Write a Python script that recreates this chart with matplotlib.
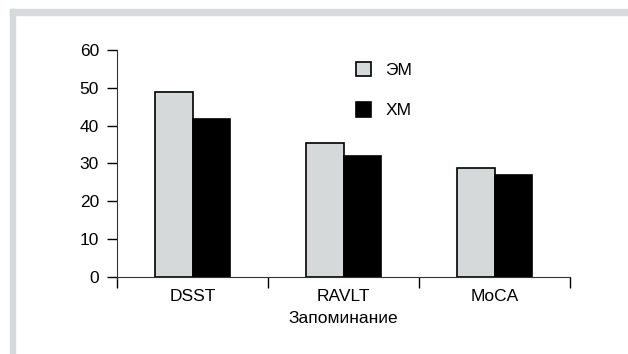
import numpy as np
import matplotlib
matplotlib.use("Agg")
from matplotlib import pyplot as plt
from matplotlib.patches import Rectangle

categories = ["DSST", "RAVLT", "MoCA"]
em_values = [48.8, 35.4, 28.7]
xm_values = [41.8, 32.0, 27.0]
series_labels = ["ЭМ", "ХМ"]
y_ticks = [0, 10, 20, 30, 40, 50, 60]
x_label = "Запоминание"

plt.rcParams['font.family'] = ['Liberation Sans', 'DejaVu Sans']
plt.rcParams['font.size'] = 12.5

fig = plt.figure(figsize=(6.28, 3.54), dpi=100)
fig.patch.set_facecolor("white")

# grey frame band (top and left), cropped like the source
frame_col = "#d6dada"
fig.patches.append(Rectangle((10 / 628, 0), 5 / 628, 1 - 9 / 354,
                             transform=fig.transFigure, color=frame_col, zorder=0))
fig.patches.append(Rectangle((10 / 628, 1 - 14.5 / 354), 1, 5.5 / 354,
                             transform=fig.transFigure, color=frame_col, zorder=0))

ax = fig.add_axes([117 / 628, (354 - 276.7) / 354, 453 / 628, 226.7 / 354])

centers = np.arange(len(categories)) + 0.5
w = 0.25
ax.bar(centers - w / 2, em_values, w, color="#d5d9d9", edgecolor="black",
       linewidth=1.2, label=series_labels[0])
ax.bar(centers + w / 2, xm_values, w, color="black", edgecolor="black",
       linewidth=1.2, label=series_labels[1])

ax.set_xlim(0, 3)
ax.set_ylim(0, 60)
ax.set_yticks(y_ticks)
ax.set_xticks([0, 1, 2, 3])
ax.set_xticklabels([])
ax.set_xticks(centers, minor=True)
ax.set_xticklabels(categories, minor=True)
ax.tick_params(axis="x", which="minor", length=0, pad=9)
ax.tick_params(axis="x", which="major", length=8, width=1, direction="out")
ax.tick_params(axis="y", length=7, width=1, pad=6)
ax.set_xlabel(x_label, labelpad=5)

for s in ["top", "right"]:
    ax.spines[s].set_visible(False)
ax.spines["left"].set_color("#333333")
ax.spines["bottom"].set_color("#333333")
ax.spines["left"].set_bounds(-0.6, 60)

leg = ax.legend(loc="upper left", bbox_to_anchor=(347 / 628, 1 - 53 / 354),
                bbox_transform=fig.transFigure, frameon=False, borderpad=0,
                handlelength=0.9, handleheight=0.9, labelspacing=1.4,
                handletextpad=0.8)

fig.savefig("out.png", dpi=100, facecolor="white")
